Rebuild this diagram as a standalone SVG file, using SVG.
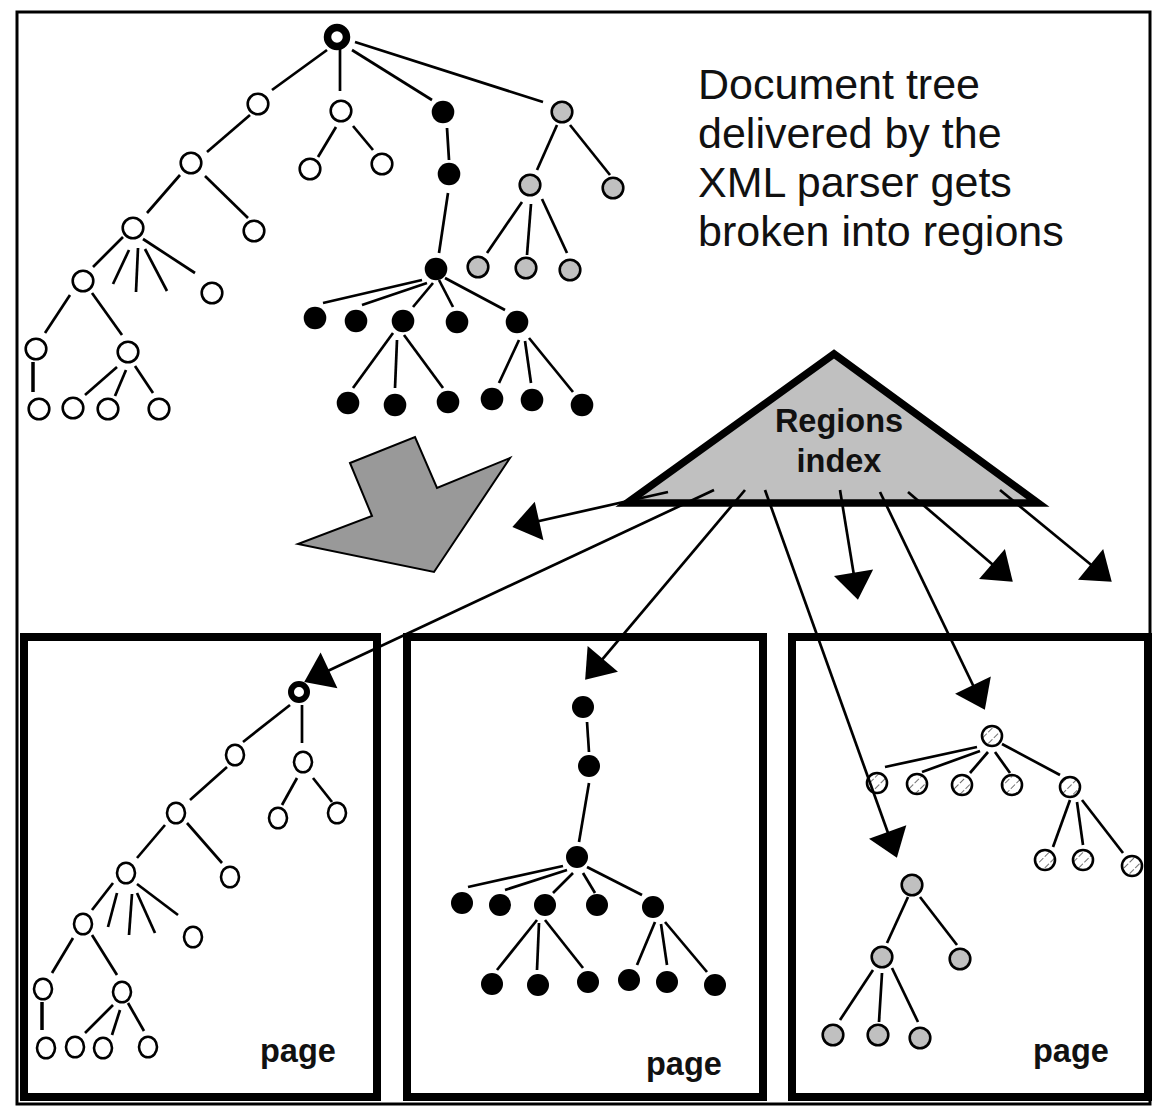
<svg xmlns="http://www.w3.org/2000/svg" width="1157" height="1106" viewBox="0 0 1157 1106">
<defs>
<style>
.w{fill:#fff;stroke:#000;stroke-width:2.6}
.bk{fill:#000}
.gr{fill:#c0c0c0;stroke:#000;stroke-width:2.6}
.ht{fill:url(#hatch);stroke:#000;stroke-width:2.6}
.ring{fill:#fff;stroke:#000;stroke-width:7.5}
.ring2{fill:#fff;stroke:#000;stroke-width:6}
.e{stroke:#000;stroke-width:2.7;fill:none}
.e3{stroke:#000;stroke-width:3.5;fill:none}
.arr{stroke:#000;stroke-width:2.7;fill:none;marker-end:url(#ah)}
.box{fill:none;stroke:#000;stroke-width:8}
.frame{fill:none;stroke:#000;stroke-width:3}
.t{font-family:"Liberation Sans",Arial,sans-serif;fill:#111}
.big{font-size:43px}
.lbl{font-size:32.5px;font-weight:bold}
</style>
<pattern id="hatch" width="8" height="8" patternUnits="userSpaceOnUse" patternTransform="rotate(45)">
<rect width="8" height="8" fill="#fff"/>
<line x1="0" y1="0" x2="0" y2="8" stroke="#222" stroke-width="1.3" stroke-dasharray="3 2"/>
</pattern>
<marker id="ah" markerUnits="userSpaceOnUse" markerWidth="34" markerHeight="48" viewBox="-30 -24 36 48" refX="-5" refY="0" orient="auto">
<path d="M0,0 L-29,-21 L-29,21 Z" fill="#000"/>
</marker>
</defs>
<rect width="1157" height="1106" fill="#fff"/>
<rect class="frame" x="17" y="12" width="1133" height="1092"/>

<g id="caption">
<text class="t big" x="698" y="99">Document tree</text>
<text class="t big" x="698" y="148">delivered by the</text>
<text class="t big" x="698" y="197">XML parser gets</text>
<text class="t big" x="698" y="246">broken into regions</text>
</g>

<g id="split-arrow">
<polygon points="350,463 415,437 437,488 510,458 434,572 298,544 372,516" fill="#999" stroke="#000" stroke-width="2" stroke-linejoin="miter"/>
</g>

<g id="regions-index">
<polygon points="627,503 834,354 1038,503" fill="#c0c0c0" stroke="#000" stroke-width="7.5" stroke-linejoin="miter" stroke-miterlimit="10"/>
<text class="t lbl" x="839" y="432" text-anchor="middle">Regions</text>
<text class="t lbl" x="839" y="472" text-anchor="middle">index</text>
</g>

<g id="page1"><rect class="box" x="24" y="637" width="353" height="460"/><text class="t lbl" x="260" y="1062">page</text></g>
<g id="page2"><rect class="box" x="407" y="637" width="356" height="460"/><text class="t lbl" x="646" y="1075">page</text></g>
<g id="page3"><rect class="box" x="792" y="637" width="356" height="460"/><text class="t lbl" x="1033" y="1062">page</text></g>

<g id="connectors">
<!-- top tree edges -->
<line class="e" x1="327" y1="50" x2="272" y2="90"/>
<line class="e" x1="250" y1="115" x2="207" y2="152"/>
<line class="e" x1="180" y1="175" x2="147" y2="213"/>
<line class="e" x1="205" y1="176" x2="248" y2="218"/>
<line class="e" x1="123" y1="237" x2="93" y2="267"/>
<line class="e" x1="129" y1="250" x2="113" y2="284"/>
<line class="e" x1="138" y1="248" x2="136" y2="292"/>
<line class="e" x1="145" y1="249" x2="167" y2="291"/>
<line class="e" x1="143" y1="239" x2="195" y2="273"/>
<line class="e" x1="70" y1="295" x2="45" y2="333"/>
<line class="e" x1="92" y1="293" x2="122" y2="335"/>
<line class="e3" x1="33" y1="362" x2="33" y2="392"/>
<line class="e" x1="117" y1="367" x2="85" y2="395"/>
<line class="e" x1="126" y1="370" x2="115" y2="396"/>
<line class="e" x1="135" y1="366" x2="153" y2="393"/>
<line class="e" x1="340" y1="48" x2="340" y2="91"/>
<line class="e" x1="336" y1="127" x2="318" y2="157"/>
<line class="e" x1="353" y1="126" x2="373" y2="150"/>
<line class="e" x1="352" y1="50" x2="432" y2="100"/>
<line class="e" x1="355" y1="42" x2="543" y2="102"/>
<line class="e" x1="447" y1="128" x2="449" y2="160"/>
<line class="e" x1="448" y1="193" x2="439" y2="253"/>
<line class="e" x1="422" y1="280" x2="323" y2="303"/>
<line class="e" x1="427" y1="283" x2="362" y2="305"/>
<line class="e" x1="433" y1="283" x2="413" y2="307"/>
<line class="e" x1="439" y1="280" x2="453" y2="307"/>
<line class="e" x1="445" y1="278" x2="505" y2="310"/>
<line class="e" x1="393" y1="333" x2="353" y2="388"/>
<line class="e" x1="397" y1="340" x2="395" y2="388"/>
<line class="e" x1="404" y1="335" x2="443" y2="388"/>
<line class="e" x1="519" y1="340" x2="499" y2="383"/>
<line class="e" x1="525" y1="341" x2="531" y2="383"/>
<line class="e" x1="529" y1="338" x2="573" y2="392"/>
<line class="e" x1="557" y1="125" x2="537" y2="170"/>
<line class="e" x1="570" y1="125" x2="610" y2="175"/>
<line class="e" x1="522" y1="202" x2="487" y2="253"/>
<line class="e" x1="531" y1="204" x2="527" y2="255"/>
<line class="e" x1="542" y1="199" x2="567" y2="253"/>
<!-- page 1 edges -->
<line class="e" x1="290" y1="705" x2="243" y2="742"/>
<line class="e" x1="302" y1="705" x2="302" y2="743"/>
<line class="e" x1="297" y1="778" x2="282" y2="805"/>
<line class="e" x1="313" y1="778" x2="332" y2="802"/>
<line class="e" x1="227" y1="767" x2="190" y2="800"/>
<line class="e" x1="187" y1="823" x2="222" y2="863"/>
<line class="e" x1="165" y1="825" x2="137" y2="858"/>
<line class="e" x1="117" y1="893" x2="108" y2="927"/>
<line class="e" x1="132" y1="894" x2="129" y2="935"/>
<line class="e" x1="137" y1="893" x2="155" y2="933"/>
<line class="e" x1="137" y1="884" x2="178" y2="915"/>
<line class="e" x1="113" y1="883" x2="92" y2="910"/>
<line class="e" x1="73" y1="938" x2="52" y2="973"/>
<line class="e" x1="92" y1="935" x2="117" y2="975"/>
<line class="e3" x1="42" y1="1002" x2="42" y2="1030"/>
<line class="e" x1="113" y1="1005" x2="85" y2="1033"/>
<line class="e" x1="120" y1="1010" x2="112" y2="1035"/>
<line class="e" x1="128" y1="1003" x2="144" y2="1031"/>
<!-- page 2 edges -->
<line class="e" x1="587" y1="722" x2="589" y2="752"/>
<line class="e" x1="589" y1="783" x2="579" y2="842"/>
<line class="e" x1="563" y1="866" x2="468" y2="887"/>
<line class="e" x1="567" y1="870" x2="505" y2="890"/>
<line class="e" x1="573" y1="873" x2="553" y2="893"/>
<line class="e" x1="583" y1="873" x2="595" y2="893"/>
<line class="e" x1="587" y1="867" x2="642" y2="895"/>
<line class="e" x1="537" y1="920" x2="497" y2="970"/>
<line class="e" x1="539" y1="923" x2="537" y2="970"/>
<line class="e" x1="545" y1="920" x2="583" y2="968"/>
<line class="e" x1="655" y1="922" x2="637" y2="965"/>
<line class="e" x1="661" y1="924" x2="667" y2="965"/>
<line class="e" x1="665" y1="922" x2="707" y2="972"/>
<!-- page 3 edges -->
<line class="e" x1="977" y1="747" x2="885" y2="767"/>
<line class="e" x1="980" y1="751" x2="922" y2="772"/>
<line class="e" x1="988" y1="752" x2="970" y2="773"/>
<line class="e" x1="995" y1="752" x2="1010" y2="773"/>
<line class="e" x1="1002" y1="744" x2="1060" y2="775"/>
<line class="e" x1="1070" y1="800" x2="1053" y2="847"/>
<line class="e" x1="1077" y1="802" x2="1083" y2="845"/>
<line class="e" x1="1082" y1="800" x2="1123" y2="853"/>
<line class="e" x1="908" y1="897" x2="887" y2="943"/>
<line class="e" x1="920" y1="897" x2="957" y2="945"/>
<line class="e" x1="873" y1="970" x2="840" y2="1020"/>
<line class="e" x1="882" y1="973" x2="879" y2="1022"/>
<line class="e" x1="892" y1="968" x2="918" y2="1022"/>
</g>

<g id="top-tree">
<g id="t-root"><circle class="ring" cx="337" cy="37" r="9.5"/></g>
<g id="t-w1"><circle class="w" cx="258" cy="104" r="10.3"/></g>
<g id="t-w2"><circle class="w" cx="191" cy="163" r="10.3"/></g>
<g id="t-w3"><circle class="w" cx="133" cy="228" r="10.3"/></g>
<g id="t-w4"><circle class="w" cx="83" cy="281" r="10.3"/></g>
<g id="t-w5"><circle class="w" cx="36" cy="349" r="10.3"/></g>
<g id="t-w6"><circle class="w" cx="128" cy="352" r="10.3"/></g>
<g id="t-w7"><circle class="w" cx="39" cy="409" r="10.3"/></g>
<g id="t-w8"><circle class="w" cx="73" cy="408" r="10.3"/></g>
<g id="t-w9"><circle class="w" cx="108" cy="409" r="10.3"/></g>
<g id="t-w10"><circle class="w" cx="159" cy="409" r="10.3"/></g>
<g id="t-w11"><circle class="w" cx="254" cy="231" r="10.3"/></g>
<g id="t-w12"><circle class="w" cx="212" cy="293" r="10.3"/></g>
<g id="t-w13"><circle class="w" cx="341" cy="111" r="10.3"/></g>
<g id="t-w14"><circle class="w" cx="310" cy="169" r="10.3"/></g>
<g id="t-w15"><circle class="w" cx="382" cy="164" r="10.3"/></g>
<g id="t-b1"><circle class="bk" cx="443" cy="112" r="11.3"/></g>
<g id="t-b2"><circle class="bk" cx="449" cy="174" r="11.3"/></g>
<g id="t-b3"><circle class="bk" cx="436" cy="269" r="11.3"/></g>
<g id="t-c1"><circle class="bk" cx="315" cy="318" r="11.3"/></g>
<g id="t-c2"><circle class="bk" cx="356" cy="321" r="11.3"/></g>
<g id="t-c3"><circle class="bk" cx="403" cy="321" r="11.3"/></g>
<g id="t-c4"><circle class="bk" cx="457" cy="322" r="11.3"/></g>
<g id="t-c5"><circle class="bk" cx="517" cy="322" r="11.3"/></g>
<g id="t-d1"><circle class="bk" cx="348" cy="403" r="11.3"/></g>
<g id="t-d2"><circle class="bk" cx="395" cy="405" r="11.3"/></g>
<g id="t-d3"><circle class="bk" cx="448" cy="402" r="11.3"/></g>
<g id="t-d4"><circle class="bk" cx="492" cy="399" r="11.3"/></g>
<g id="t-d5"><circle class="bk" cx="532" cy="400" r="11.3"/></g>
<g id="t-d6"><circle class="bk" cx="582" cy="405" r="11.3"/></g>
<g id="t-g1"><circle class="gr" cx="562" cy="112" r="10.3"/></g>
<g id="t-g2"><circle class="gr" cx="530" cy="185" r="10.3"/></g>
<g id="t-g3"><circle class="gr" cx="613" cy="188" r="10.3"/></g>
<g id="t-g4"><circle class="gr" cx="478" cy="267" r="10.3"/></g>
<g id="t-g5"><circle class="gr" cx="526" cy="268" r="10.3"/></g>
<g id="t-g6"><circle class="gr" cx="570" cy="270" r="10.3"/></g>
</g>

<g id="page1-tree">
<g id="p1-root"><circle class="ring2" cx="299" cy="692" r="8"/></g>
<g id="p1-l1"><ellipse class="w" cx="235" cy="755" rx="9" ry="10.3"/></g>
<g id="p1-r1"><ellipse class="w" cx="303" cy="762" rx="9" ry="10.3"/></g>
<g id="p1-r1a"><ellipse class="w" cx="278" cy="818" rx="9" ry="10.3"/></g>
<g id="p1-r1b"><ellipse class="w" cx="337" cy="813" rx="9" ry="10.3"/></g>
<g id="p1-l2"><ellipse class="w" cx="176" cy="813" rx="9" ry="10.3"/></g>
<g id="p1-l2r"><ellipse class="w" cx="230" cy="877" rx="9" ry="10.3"/></g>
<g id="p1-l3"><ellipse class="w" cx="126" cy="873" rx="9" ry="10.3"/></g>
<g id="p1-l3r"><ellipse class="w" cx="193" cy="937" rx="9" ry="10.3"/></g>
<g id="p1-l4"><ellipse class="w" cx="83" cy="924" rx="9" ry="10.3"/></g>
<g id="p1-l5"><ellipse class="w" cx="43" cy="989" rx="9" ry="10.3"/></g>
<g id="p1-l6"><ellipse class="w" cx="122" cy="992" rx="9" ry="10.3"/></g>
<g id="p1-k1"><ellipse class="w" cx="46" cy="1048" rx="9" ry="10.3"/></g>
<g id="p1-k2"><ellipse class="w" cx="75" cy="1047" rx="9" ry="10.3"/></g>
<g id="p1-k3"><ellipse class="w" cx="103" cy="1048" rx="9" ry="10.3"/></g>
<g id="p1-k4"><ellipse class="w" cx="148" cy="1047" rx="9" ry="10.3"/></g>
</g>

<g id="page2-tree">
<g id="p2-n1"><circle class="bk" cx="583" cy="707" r="11"/></g>
<g id="p2-n2"><circle class="bk" cx="589" cy="766" r="11"/></g>
<g id="p2-n3"><circle class="bk" cx="577" cy="857" r="11"/></g>
<g id="p2-c1"><circle class="bk" cx="462" cy="903" r="11"/></g>
<g id="p2-c2"><circle class="bk" cx="500" cy="905" r="11"/></g>
<g id="p2-c3"><circle class="bk" cx="545" cy="905" r="11"/></g>
<g id="p2-c4"><circle class="bk" cx="597" cy="905" r="11"/></g>
<g id="p2-c5"><circle class="bk" cx="653" cy="907" r="11"/></g>
<g id="p2-d1"><circle class="bk" cx="492" cy="984" r="11"/></g>
<g id="p2-d2"><circle class="bk" cx="538" cy="985" r="11"/></g>
<g id="p2-d3"><circle class="bk" cx="588" cy="982" r="11"/></g>
<g id="p2-d4"><circle class="bk" cx="629" cy="980" r="11"/></g>
<g id="p2-d5"><circle class="bk" cx="667" cy="982" r="11"/></g>
<g id="p2-d6"><circle class="bk" cx="715" cy="985" r="11"/></g>
</g>

<g id="page3-tree">
<g id="p3-h0"><circle class="ht" cx="992" cy="736" r="10"/></g>
<g id="p3-h1"><circle class="ht" cx="877" cy="783" r="10"/></g>
<g id="p3-h2"><circle class="ht" cx="917" cy="784" r="10"/></g>
<g id="p3-h3"><circle class="ht" cx="962" cy="785" r="10"/></g>
<g id="p3-h4"><circle class="ht" cx="1012" cy="785" r="10"/></g>
<g id="p3-h5"><circle class="ht" cx="1070" cy="787" r="10"/></g>
<g id="p3-h6"><circle class="ht" cx="1045" cy="860" r="10"/></g>
<g id="p3-h7"><circle class="ht" cx="1083" cy="860" r="10"/></g>
<g id="p3-h8"><circle class="ht" cx="1132" cy="866" r="10"/></g>
<g id="p3-g1"><circle class="gr" cx="912" cy="885" r="10.3"/></g>
<g id="p3-g2"><circle class="gr" cx="882" cy="957" r="10.3"/></g>
<g id="p3-g3"><circle class="gr" cx="960" cy="959" r="10.3"/></g>
<g id="p3-g4"><circle class="gr" cx="833" cy="1035" r="10.3"/></g>
<g id="p3-g5"><circle class="gr" cx="878" cy="1035" r="10.3"/></g>
<g id="p3-g6"><circle class="gr" cx="920" cy="1038" r="10.3"/></g>
</g>

<g id="index-arrows">
<line class="arr" x1="668" y1="492" x2="517" y2="526"/>
<line class="arr" x1="714" y1="490" x2="308.5" y2="680"/>
<line class="arr" x1="745" y1="490" x2="588.2" y2="676.2"/>
<line class="arr" x1="765" y1="490" x2="895.3" y2="853.3"/>
<line class="arr" x1="840" y1="490" x2="857.2" y2="595.1"/>
<line class="arr" x1="880" y1="492" x2="982.8" y2="705.5"/>
<line class="arr" x1="908" y1="492" x2="1009.2" y2="578.7"/>
<line class="arr" x1="1000" y1="490" x2="1108.1" y2="578.8"/>
</g>
</svg>
